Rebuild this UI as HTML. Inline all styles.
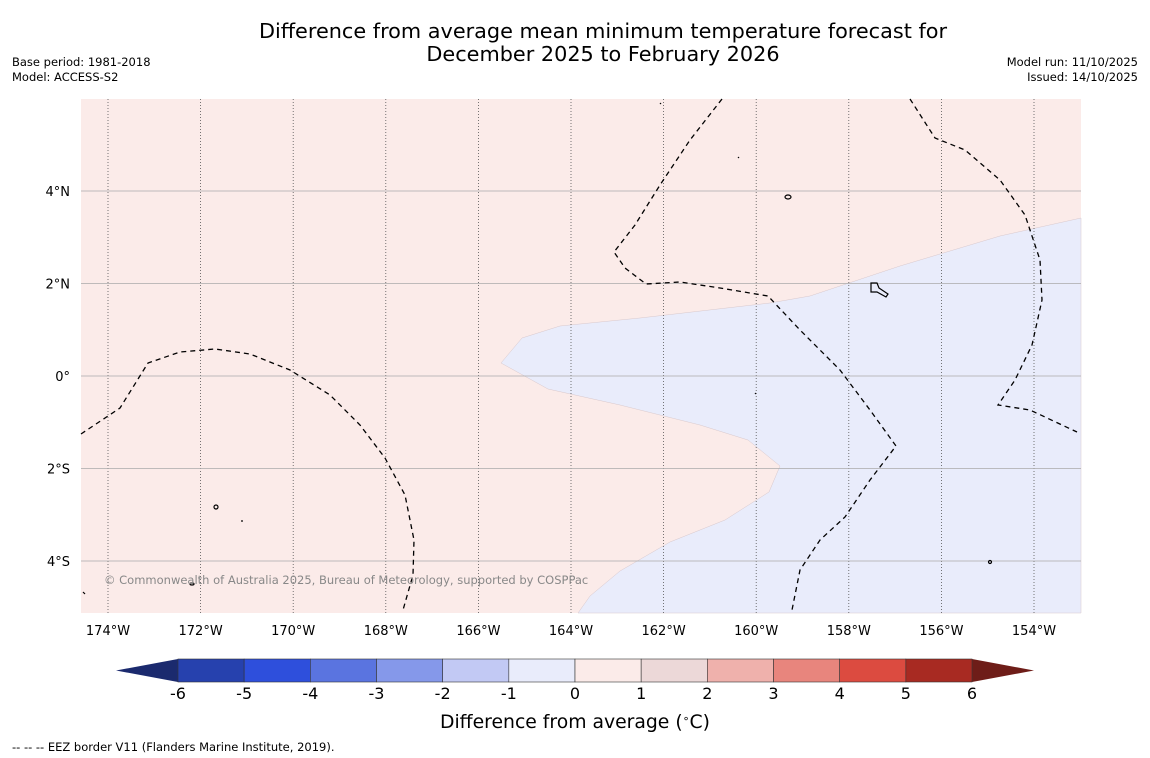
<!DOCTYPE html>
<html><head><meta charset="utf-8"><style>
body{margin:0;background:#fff;font-family:"DejaVu Sans","Liberation Sans",sans-serif}
svg{display:block}
</style></head><body>
<svg id="chart" width="1150" height="758" viewBox="0 0 1150 758" xmlns="http://www.w3.org/2000/svg" font-family="'DejaVu Sans','Liberation Sans',sans-serif">
<rect width="1150" height="758" fill="#fff"/>
<text x="603" y="38" font-size="20.8" text-anchor="middle" fill="#000">Difference from average mean minimum temperature forecast for</text>
<text x="603" y="61" font-size="20.8" text-anchor="middle" fill="#000">December 2025 to February 2026</text>
<text x="12" y="66" font-size="11.5">Base period: 1981-2018</text>
<text x="12" y="81" font-size="11.5">Model: ACCESS-S2</text>
<text x="1138" y="66" font-size="11.5" text-anchor="end">Model run: 11/10/2025</text>
<text x="1138" y="81" font-size="11.5" text-anchor="end">Issued: 14/10/2025</text>
<g id="map">
<rect x="81" y="99" width="1000" height="514" fill="#fbebe9"/>
<polygon fill="#e9ecfb" stroke="#d8c8cc" stroke-width="0.5" points="1081,218 1000,236 900,266 810,296 770,303 640,318 560,326 522,338 501,363 548,389 620,405 700,425 748,440 780,466 769,492 725,520 670,542 620,571 590,596 578,613 1081,613"/>
<g id="grid"></g>
<g fill="none" stroke="#000" stroke-width="1.3" stroke-dasharray="5,4">
<polyline points="81,434 120,408 148,363 180,352 215,349 250,354 290,370 330,395 360,425 385,458 405,495 414,540 413,575 403,610"/>
<polyline points="722,99 690,140 660,185 635,225 614,252 625,268 646,284 680,282 720,288 768,296 800,330 840,370 870,410 896,446 870,480 845,517 820,540 800,570 792,610"/>
<polyline points="910,99 935,138 965,150 1000,180 1025,215 1040,260 1042,300 1032,345 1015,380 998,405 1030,410 1077,432"/>
</g>
<g fill="none" stroke="#000" stroke-width="1.2">
<ellipse cx="788" cy="197" rx="3" ry="2"/>
<path d="M871 283 l6 0 l2 5 l9 6 l-2 3 l-9 -5 l-6 0 z"/>
<ellipse cx="216" cy="507" rx="2" ry="2"/>
<ellipse cx="192" cy="584" rx="2" ry="1"/>
<ellipse cx="990" cy="562" rx="1.5" ry="1.5"/>
<line x1="660" y1="103" x2="661" y2="104"/><line x1="738" y1="157" x2="739" y2="158"/>
<line x1="242" y1="520" x2="242" y2="522"/><line x1="755" y1="393" x2="756" y2="394"/>
<line x1="83" y1="592" x2="85" y2="594"/>
</g>
<text x="104" y="584" font-size="11.5" fill="#888">© Commonwealth of Australia 2025, Bureau of Meteorology, supported by COSPPac</text>
</g>
<g id="axes"></g>
<g id="cbar"></g>
<text x="575" y="728" font-size="18.8" text-anchor="middle">Difference from average (<tspan baseline-shift="super" font-size="11">∘</tspan>C)</text>
<text x="12" y="751" font-size="11.5">--  --  -- EEZ border V11 (Flanders Marine Institute, 2019).</text>
</svg>
<script>
const lonTicks=[-174,-172,-170,-168,-166,-164,-162,-160,-158,-156,-154];
const latTicks=[4,2,0,-2,-4];
const levels=[-6,-5,-4,-3,-2,-1,0,1,2,3,4,5,6];
const levelColors=["#2641ae","#2e4fdc","#5a74e0","#8598ea","#c2c9f4","#e9ecfb","#fbebe9","#ecd8d8","#efb1ac","#e8857d","#dc4b40","#a82a22"];
const extendColors=["#1b2a6e","#6e1d18"];
const NS="http://www.w3.org/2000/svg";
const xLon=l=>108+(l+174)*46.3;
const yLat=v=>376-v*46.25;
const xC=v=>575+v*66.17;
function mk(tag,attrs,parent,text){const e=document.createElementNS(NS,tag);for(const k in attrs)e.setAttribute(k,attrs[k]);if(text!==undefined)e.textContent=text;parent.appendChild(e);return e;}
const grid=document.getElementById('grid'),axes=document.getElementById('axes'),cb=document.getElementById('cbar');
lonTicks.forEach(l=>{
 const x=xLon(l);
 const g=mk('line',{x1:x,y1:99,x2:x,y2:613,stroke:'#555',"stroke-width":0.8,"stroke-dasharray":"1,2"},grid);
 
 
 const t=mk('text',{x:x,y:635,"font-size":13,"text-anchor":"middle"},axes,Math.abs(l)+'°W');
 
 
});
latTicks.forEach(v=>{
 const y=yLat(v);
 const g=mk('line',{x1:81,y1:y,x2:1081,y2:y,stroke:'#aaa',"stroke-width":0.8},grid);
 
 
 const lab=v===0?'0°':Math.abs(v)+'°'+(v>0?'N':'S');
 const t=mk('text',{x:70,y:y+5,"font-size":13,"text-anchor":"end"},axes,lab);
 
 
});
const y0=659,y1=682;
const lt=mk('polygon',{points:`${xC(levels[0])},${y0} ${xC(levels[0])},${y1} 116,${(y0+y1)/2}`,fill:extendColors[0]},cb);


const rt=mk('polygon',{points:`${xC(levels[levels.length-1])},${y0} ${xC(levels[levels.length-1])},${y1} 1034,${(y0+y1)/2}`,fill:extendColors[1]},cb);


levelColors.forEach((c,i)=>{
 const r=mk('rect',{x:xC(levels[i]),y:y0,width:xC(levels[i+1])-xC(levels[i]),height:y1-y0,fill:c,stroke:'#333',"stroke-width":0.6},cb);
 
 
});
levels.forEach(v=>{
 const t=mk('text',{x:xC(v),y:699,"font-size":16,"text-anchor":"middle"},cb,String(v));
 
 
});
</script>
</body></html>
